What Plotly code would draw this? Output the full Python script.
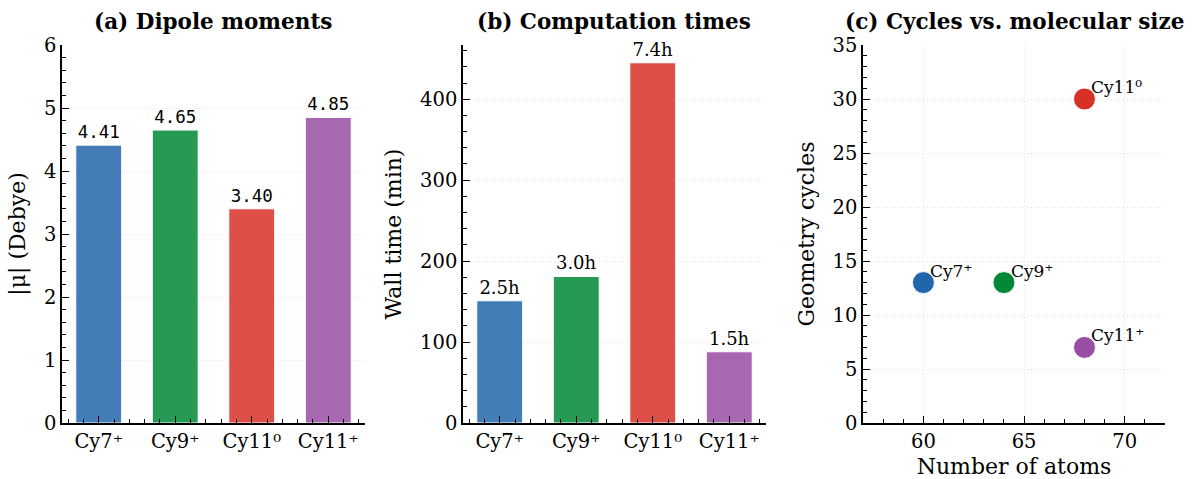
import plotly.graph_objects as go

# ---------------- data ----------------
molecules = ["Cy7⁺", "Cy9⁺", "Cy11⁰", "Cy11⁺"]
dipole_debye = [4.41, 4.65, 3.40, 4.85]
wall_time_min = [151, 181, 445, 88]
n_atoms = [60, 64, 68, 68]
geom_cycles = [13, 13, 30, 7]

bar_colors = ["rgba(33,102,172,0.85)", "rgba(0,136,55,0.85)",
              "rgba(215,48,39,0.85)", "rgba(152,78,163,0.85)"]
pt_colors = ["#2166ac", "#008837", "#d73027", "#984ea3"]

W, H = 1192, 479
SERIF = "DejaVu Serif"
MONO = "DejaVu Sans Mono"

def px_x(a, b):
    return [a / W, b / W]

ydom = [1 - 423 / H, 1 - 45 / H]

fig = go.Figure()
xpos = list(range(len(molecules)))

fig.add_trace(go.Bar(
    x=xpos, y=dipole_debye, width=0.6, marker=dict(color=bar_colors, line=dict(color="white", width=1)),
    text=[f"{v:.2f}" for v in dipole_debye], textposition="outside", cliponaxis=False,
    constraintext="none", textfont=dict(family=MONO, size=17.5, color="black"),
    xaxis="x", yaxis="y", showlegend=False))

fig.add_trace(go.Bar(
    x=xpos, y=wall_time_min, width=0.6, marker=dict(color=bar_colors, line=dict(color="white", width=1)),
    text=[f"{v/60:.1f}h" for v in wall_time_min], textposition="outside", cliponaxis=False,
    constraintext="none", textfont=dict(family=SERIF, size=18, color="black"),
    xaxis="x2", yaxis="y2", showlegend=False))

fig.add_trace(go.Scatter(
    x=n_atoms, y=geom_cycles, mode="markers",
    marker=dict(color=pt_colors, size=22, line=dict(color="white", width=1)),
    xaxis="x3", yaxis="y3", showlegend=False, cliponaxis=False))

tickfont = dict(family=SERIF, size=19.5, color="black")
titlefont = dict(family=SERIF, size=22, color="black")
GRID = dict(showgrid=True, gridcolor="#dcdcdc", griddash="1px,3px", gridwidth=1)

def axis(**kw):
    d = dict(showline=True, linecolor="black", linewidth=1.5, ticks="inside", ticklen=7,
             tickwidth=1.2, tickcolor="black", tickfont=tickfont, zeroline=False,
             automargin=False, showgrid=False)
    d.update(kw)
    return d

def minor(dt, **kw):
    d = dict(ticks="inside", ticklen=4, tickwidth=1, tickcolor="black", dtick=dt, showgrid=False)
    d.update(kw)
    return d

fig.update_layout(
    width=W, height=H, margin=dict(l=0, r=0, t=0, b=0),
    paper_bgcolor="white", plot_bgcolor="white",
    xaxis=axis(domain=px_x(62, 365), anchor="y", range=[-0.48, 3.48],
               tickmode="array", tickvals=xpos, ticktext=molecules, minor=minor(0.2, tick0=0)),
    yaxis=axis(domain=ydom, anchor="x", range=[0, 6], dtick=1, **GRID,
               title=dict(text="|μ| (Debye)", font=titlefont, standoff=12),
               minor=minor(0.2)),
    xaxis2=axis(domain=px_x(463, 766), anchor="y2", range=[-0.48, 3.48],
                tickmode="array", tickvals=xpos, ticktext=molecules, minor=minor(0.2, tick0=0)),
    yaxis2=axis(domain=ydom, anchor="x2", range=[0, 467], dtick=100, **GRID,
                title=dict(text="Wall time (min)", font=titlefont, standoff=12),
                minor=minor(20)),
    xaxis3=axis(domain=px_x(863, 1165), anchor="y3", range=[57, 72], dtick=5, **GRID,
                title=dict(text="Number of atoms", font=titlefont, standoff=8),
                minor=minor(1)),
    yaxis3=axis(domain=ydom, anchor="x3", range=[0, 35], dtick=5, **GRID,
                title=dict(text="Geometry cycles", font=titlefont, standoff=12),
                minor=minor(1)),
)

titles = [("(a) Dipole moments", 213),
          ("(b) Computation times", 614),
          ("(c) Cycles vs. molecular size", 1014)]
for txt, cx in titles:
    fig.add_annotation(text=f"<b>{txt}</b>", x=cx / W, y=1 - 22 / H, xref="paper", yref="paper",
                       xanchor="center", yanchor="middle", showarrow=False,
                       font=dict(family=SERIF, size=21.5, color="black"))

for name, xa, yc in zip(molecules, n_atoms, geom_cycles):
    fig.add_annotation(text=name, x=xa, y=yc, xref="x3", yref="y3", xanchor="left", yanchor="bottom",
                       xshift=5, yshift=0, showarrow=False,
                       font=dict(family=SERIF, size=17, color="black"))

fig.write_html("out.html")
